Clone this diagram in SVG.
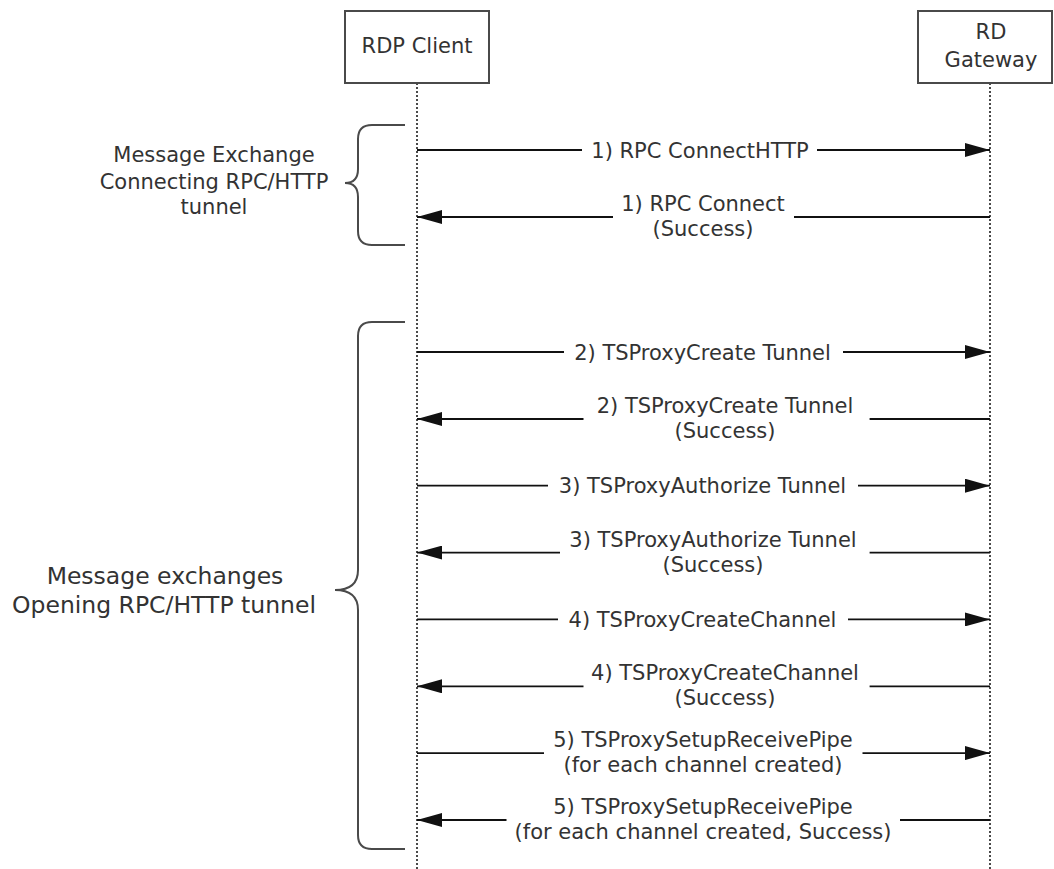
<svg xmlns="http://www.w3.org/2000/svg" width="1054" height="869" viewBox="0 0 1054 869">
  <defs>
    <style>
      .box { fill: #ffffff; stroke: #4a4a4a; stroke-width: 2; }
      .life { stroke: #4a4a4a; stroke-width: 2; stroke-dasharray: 2 2; fill: none; }
      .brace { fill: none; stroke: #4a4a4a; stroke-width: 2; }
      .msg { fill: none; stroke: #111111; stroke-width: 1.8; }
      .arr { marker-end: url(#head); }
      text { font-family: "DejaVu Sans", Verdana, sans-serif; fill: #333333; text-anchor: middle; }
      .t21 { font-size: 21px; }
      .t23 { font-size: 23.5px; }
    </style>
    <marker id="head" markerUnits="userSpaceOnUse" viewBox="0 0 25 14" markerWidth="25" markerHeight="14" refX="25" refY="7" orient="auto">
      <path d="M0,0 L25,7 L0,14 z" fill="#111111"/>
    </marker>
  </defs>

  <rect width="1054" height="869" fill="#ffffff"/>

  <!-- participants -->
  <g id="rdp-client">
    <rect class="box" x="345" y="11" width="144" height="72"/>
    <text class="t21" x="417" y="53">RDP Client</text>
    <line class="life" x1="417" y1="83" x2="417" y2="869"/>
  </g>
  <g id="rd-gateway">
    <rect class="box" x="918" y="11" width="134" height="72"/>
    <text class="t21" x="991" y="39">RD</text>
    <text class="t21" x="991" y="67">Gateway</text>
    <line class="life" x1="990" y1="83" x2="990" y2="869"/>
  </g>

  <!-- phase braces -->
  <g id="phase-connect">
    <path class="brace" d="M405,125 H372 Q358,125 358,139 V169 Q358,183 345,183 Q358,183 358,197 V231 Q358,245 372,245 H405"/>
    <text class="t21" x="214" y="162">Message Exchange</text>
    <text class="t21" x="214" y="189">Connecting RPC/HTTP</text>
    <text class="t21" x="214" y="214">tunnel</text>
  </g>
  <g id="phase-open">
    <path class="brace" d="M405,322 H372 Q358,322 358,336 V570 Q358,590 335,590 Q358,590 358,610 V835 Q358,849 372,849 H405"/>
    <text class="t23" x="165" y="584">Message exchanges</text>
    <text class="t23" x="164" y="613">Opening RPC/HTTP tunnel</text>
  </g>

  <!-- messages -->
  <g id="connectors">
    <!-- 1) RPC ConnectHTTP -->
    <path class="msg" d="M417,150 H582"/>
    <path class="msg arr" d="M817,150 H990"/>
    <text class="t21" x="700" y="157.5">1) RPC ConnectHTTP</text>

    <!-- 1) RPC Connect (Success) -->
    <path class="msg" d="M794,217 H990"/>
    <path class="msg arr" d="M613,217 H417"/>
    <text class="t21" x="703" y="211">1) RPC Connect</text>
    <text class="t21" x="703" y="236">(Success)</text>

    <!-- 2) TSProxyCreate Tunnel -->
    <path class="msg" d="M417,352 H564"/>
    <path class="msg arr" d="M843,352 H990"/>
    <text class="t21" x="702.5" y="359.5">2) TSProxyCreate Tunnel</text>

    <path class="msg" d="M869.6,419 H990"/>
    <path class="msg arr" d="M583.5,419 H417"/>
    <text class="t21" x="725" y="413">2) TSProxyCreate Tunnel</text>
    <text class="t21" x="725" y="438">(Success)</text>

    <!-- 3) TSProxyAuthorize Tunnel -->
    <path class="msg" d="M417,485.7 H548"/>
    <path class="msg arr" d="M858,485.7 H990"/>
    <text class="t21" x="702.5" y="493.2">3) TSProxyAuthorize Tunnel</text>

    <path class="msg" d="M869.6,552.6 H990"/>
    <path class="msg arr" d="M560,552.6 H417"/>
    <text class="t21" x="713" y="546.6">3) TSProxyAuthorize Tunnel</text>
    <text class="t21" x="713" y="571.6">(Success)</text>

    <!-- 4) TSProxyCreateChannel -->
    <path class="msg" d="M417,619.4 H558"/>
    <path class="msg arr" d="M848,619.4 H990"/>
    <text class="t21" x="702.5" y="626.9">4) TSProxyCreateChannel</text>

    <path class="msg" d="M869.6,686.3 H990"/>
    <path class="msg arr" d="M583.5,686.3 H417"/>
    <text class="t21" x="725" y="680.3">4) TSProxyCreateChannel</text>
    <text class="t21" x="725" y="705.3">(Success)</text>

    <!-- 5) TSProxySetupReceivePipe -->
    <path class="msg" d="M417,753.1 H544"/>
    <path class="msg arr" d="M862.5,753.1 H990"/>
    <text class="t21" x="703" y="747.1">5) TSProxySetupReceivePipe</text>
    <text class="t21" x="703" y="772.1">(for each channel created)</text>

    <path class="msg" d="M900,820 H990"/>
    <path class="msg arr" d="M506.5,820 H417"/>
    <text class="t21" x="703" y="814">5) TSProxySetupReceivePipe</text>
    <text class="t21" x="703" y="839">(for each channel created, Success)</text>
  </g>
</svg>
